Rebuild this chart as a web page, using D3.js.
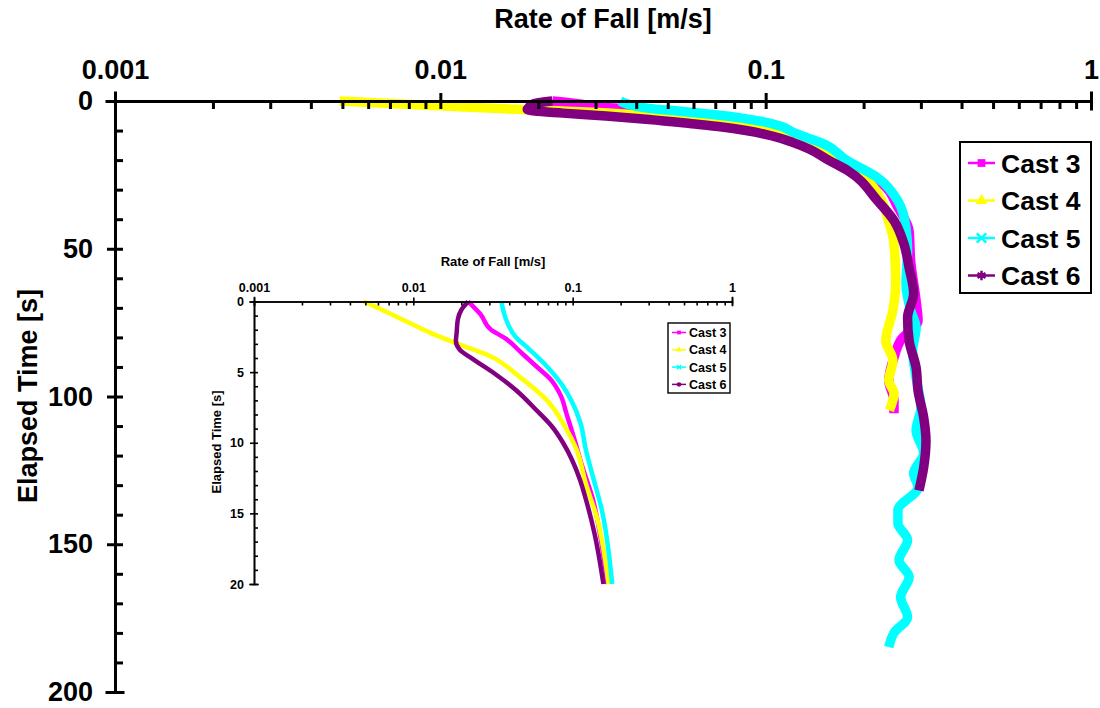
<!DOCTYPE html>
<html>
<head>
<meta charset="utf-8">
<script src="https://cdn.jsdelivr.net/npm/d3@7"></script>
<style>
  body { margin: 0; background: #fff; }
  svg { display: block; font-family: "Liberation Sans", Arial, sans-serif; font-weight: bold; }
</style>
</head>
<body>
<div id="chart"></div>
<script>
// series names and colours
const castNames = ["Cast 3", "Cast 4", "Cast 5", "Cast 6"];
const castColors = ["#ff00ff", "#ffff00", "#00ffff", "#800080"];

// elapsed time [s] and rate of fall [m/s]
const cast3Time = [0, 0.9, 2.0, 2.6, 3.7, 4.6, 5.5, 6.7, 7.9, 9.5, 11.7, 14.0, 16.4, 20, 28, 36, 44, 54, 67.6, 74.3, 81, 86.8, 94.6, 101.4, 105.7];
const cast3Rate = [0.0221, 0.0264, 0.0307, 0.0376, 0.0484, 0.0593, 0.0726, 0.0845, 0.0912, 0.101, 0.115, 0.134, 0.148, 0.165, 0.228, 0.255, 0.276, 0.279, 0.29, 0.294, 0.26, 0.248, 0.239, 0.248, 0.248];

const cast4Time = [0, 1.06, 1.9, 2.24, 2.95, 3.9, 5.3, 7.0, 8.8, 10.5, 12.9, 15.2, 20, 28, 34, 39.5, 48.3, 61.8, 70.9, 81.1, 87.8, 94.6, 99, 104.7];
const cast4Rate = [0.0049, 0.0078, 0.0111, 0.0129, 0.0185, 0.0307, 0.046, 0.069, 0.089, 0.106, 0.121, 0.141, 0.168, 0.21, 0.228, 0.237, 0.248, 0.251, 0.246, 0.234, 0.246, 0.239, 0.248, 0.24];

const cast5Time = [0, 1.06, 2.5, 3.4, 4.6, 5.8, 7.0, 8.6, 10.5, 12.4, 14.7, 20, 26, 33.8, 42.9, 50.7, 61.8, 70.9, 76.7, 84.5, 93.6, 103.7, 111.5, 119.3, 126, 130.7, 138.5, 142.9, 148.6, 155.4, 161.1, 167.9, 174.7, 180, 184.8];
const cast5Rate = [0.0357, 0.0376, 0.0438, 0.0536, 0.069, 0.0845, 0.098, 0.112, 0.121, 0.134, 0.152, 0.177, 0.221, 0.255, 0.27, 0.273, 0.27, 0.279, 0.29, 0.283, 0.29, 0.3, 0.29, 0.306, 0.285, 0.294, 0.255, 0.255, 0.273, 0.257, 0.276, 0.26, 0.273, 0.248, 0.239];

const cast6Time = [0, 0.6, 1.3, 2.2, 2.8, 3.4, 4.1, 5.1, 6.25, 7.7, 8.8, 10.0, 11.2, 12.6, 14.0, 16.4, 20, 23.6, 33.8, 40.5, 48.3, 56.4, 65.2, 73.3, 81.1, 90.2, 98, 107.1, 114.9, 124, 131.8];
const cast6Rate = [0.0221, 0.0200, 0.019, 0.0187, 0.0185, 0.0195, 0.0238, 0.0323, 0.0438, 0.0593, 0.0735, 0.087, 0.099, 0.111, 0.121, 0.137, 0.156, 0.179, 0.221, 0.248, 0.266, 0.276, 0.285, 0.273, 0.276, 0.29, 0.294, 0.306, 0.311, 0.306, 0.296];

// axis ticks
const rateTicks = [0.001, 0.01, 0.1, 1];
const rateTickLabels = ["0.001", "0.01", "0.1", "1"];
const mainTimeTicks = [0, 50, 100, 150, 200];
const insetTimeTicks = [0, 5, 10, 15, 20];

const castTimes = [cast3Time, cast4Time, cast5Time, cast6Time];
const castRates = [cast3Rate, cast4Rate, cast5Rate, cast6Rate];
const symbols = [d3.symbolSquare, d3.symbolTriangle, d3.symbolX, d3.symbolAsterisk];

const series = castNames.map((name, i) => ({
    name: name,
    color: castColors[i],
    symbol: symbols[i],
    pts: d3.zip(castTimes[i], castRates[i])
}));

const svg = d3.select("#chart").append("svg")
    .attr("width", 1100)
    .attr("height", 708);

// one panel = log rate on top axis, time going down
const drawPanel = (opt) => {

    let x = d3.scaleLog().domain([0.001, 1]).range(opt.xRange);
    let y = d3.scaleLinear().domain([0, opt.tMax]).range(opt.yRange);
    let g = svg.append("g");

    // series lines
    let line = d3.line()
        .x(d => x(d[1]))
        .y(d => y(d[0]))
        .curve(d3.curveMonotoneY);

    series.forEach(s => {
        let pts = s.pts.filter(d => d[0] <= opt.tMax);
        g.append("path")
            .datum(pts)
            .attr("d", line)
            .attr("fill", "none")
            .attr("stroke", s.color)
            .attr("stroke-width", opt.lineW)
            .attr("stroke-linejoin", "round");
    });

    // top axis: labelled majors crossing the line, minors inside
    g.append("g")
        .attr("transform", `translate(0,${opt.yRange[0]})`)
        .call(d3.axisTop(x).tickValues(rateTicks).tickSize(opt.tick)
            .tickFormat((d, i) => rateTickLabels[i]).tickPadding(opt.pad));
    g.append("g")
        .attr("transform", `translate(0,${opt.yRange[0]})`)
        .call(d3.axisBottom(x).tickValues(x.ticks()).tickSize(opt.tick).tickFormat(""));

    // left axis
    g.append("g")
        .attr("transform", `translate(${opt.xRange[0]},0)`)
        .call(d3.axisLeft(y).tickValues(opt.timeTicks).tickSize(opt.tick).tickPadding(opt.pad));
    g.append("g")
        .attr("transform", `translate(${opt.xRange[0]},0)`)
        .call(d3.axisRight(y).ticks(opt.tMax / opt.minorStep).tickSize(opt.tick).tickFormat(""));

    g.selectAll(".domain, .tick line")
        .attr("stroke", "#000")
        .attr("stroke-width", opt.axisW);
    g.selectAll(".domain").attr("stroke-linecap", "square");
    g.selectAll(".tick text")
        .attr("fill", "#000")
        .style("font-size", opt.font + "px")
        .style("font-family", "Liberation Sans, Arial, sans-serif")
        .style("font-weight", "bold");

    // titles
    g.append("text")
        .attr("x", (opt.xRange[0] + opt.xRange[1]) / 2)
        .attr("y", opt.titleY)
        .attr("text-anchor", "middle")
        .style("font-size", opt.titleFont + "px")
        .text("Rate of Fall [m/s]");

    g.append("text")
        .attr("transform", `translate(${opt.yTitleX},${opt.yTitleMid}) rotate(-90)`)
        .attr("text-anchor", "middle")
        .style("font-size", opt.titleFont + "px")
        .text("Elapsed Time [s]");

    // legend
    let lg = opt.legend;
    let leg = g.append("g");
    leg.append("rect")
        .attr("x", lg.x).attr("y", lg.y)
        .attr("width", lg.w).attr("height", lg.h)
        .attr("fill", "#fff")
        .attr("stroke", "#000")
        .attr("stroke-width", lg.border);

    series.forEach((s, i) => {
        let row = leg.append("g")
            .attr("transform", `translate(${lg.x + lg.padX},${lg.y + lg.firstRow + i * lg.rowH})`);
        row.append("line")
            .attr("x1", 0).attr("x2", lg.sample)
            .attr("stroke", s.color)
            .attr("stroke-width", lg.sw);
        let stroked = i >= 2;
        row.append("path")
            .attr("transform", `translate(${lg.sample / 2},0)`)
            .attr("d", d3.symbol(s.symbol, lg.sym)())
            .attr("fill", stroked ? "none" : s.color)
            .attr("stroke", stroked ? s.color : "none")
            .attr("stroke-width", stroked ? lg.sw : 0);
        row.append("text")
            .attr("x", lg.sample + lg.gap)
            .attr("dy", "0.36em")
            .style("font-size", lg.font + "px")
            .text(s.name);
    });
};

// main chart
drawPanel({
    xRange: [115, 1091], yRange: [101, 692], tMax: 200,
    timeTicks: mainTimeTicks, minorStep: 10,
    lineW: 9.5, axisW: 3, tick: 8, pad: 14, font: 27,
    titleFont: 27, titleY: 28, yTitleX: 37, yTitleMid: 396,
    legend: { x: 960, y: 142, w: 131, h: 151, border: 2, padX: 8, firstRow: 21,
              rowH: 37.5, sample: 27, gap: 6, sw: 2.5, sym: 60, font: 26.5 }
});

// inset chart, first 20 s
drawPanel({
    xRange: [254, 732], yRange: [301.5, 584], tMax: 20,
    timeTicks: insetTimeTicks, minorStep: 1,
    lineW: 4.5, axisW: 1.6, tick: 4, pad: 6, font: 12.5,
    titleFont: 13, titleY: 266, yTitleX: 221, yTitleMid: 442,
    legend: { x: 668, y: 323, w: 62, h: 70, border: 1.4, padX: 4, firstRow: 9.5,
              rowH: 17.3, sample: 14, gap: 3, sw: 1.5, sym: 14, font: 12.5 }
});
</script>
</body>
</html>
